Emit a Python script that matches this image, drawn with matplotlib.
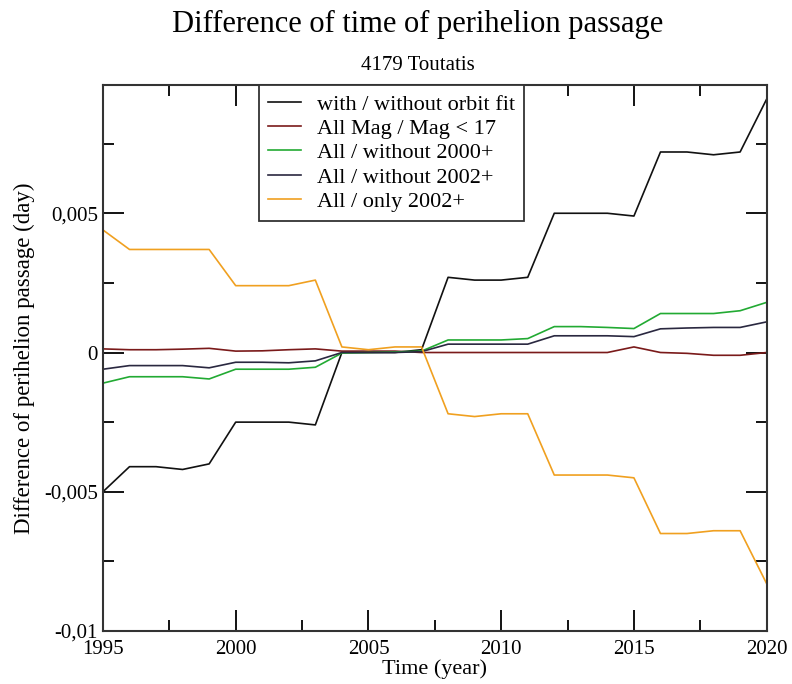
import matplotlib.pyplot as plt
from matplotlib.ticker import MultipleLocator

# years sampled once per year, 1995-2020
years = list(range(1995, 2021))

# with / without orbit fit
orbit_fit = [-0.0050, -0.0041, -0.0041, -0.0042, -0.0040, -0.0025, -0.0025, -0.0025, -0.0026,
             0.0000, 0.0000, 0.0000, 0.0001, 0.0027, 0.0026, 0.0026, 0.0027, 0.0050,
             0.0050, 0.0050, 0.0049, 0.0072, 0.0072, 0.0071, 0.0072, 0.0091]
# All Mag / Mag < 17
mag17 = [0.00013, 0.00010, 0.00010, 0.00012, 0.00015, 0.00005, 0.00006, 0.00010, 0.00013,
         0.00005, 0.00005, 0.00005, 0.0000, 0.0000, 0.0000, 0.0000, 0.0000, 0.0000,
         0.0000, 0.0000, 0.0002, 0.0000, -0.00003, -0.0001, -0.0001, 0.0000]
# All / without 2000+
wo2000 = [-0.0011, -0.00087, -0.00087, -0.00087, -0.00095, -0.0006, -0.0006, -0.0006, -0.00053,
          -0.00002, 0.00000, 0.00002, 0.00005, 0.00045, 0.00045, 0.00045, 0.0005, 0.00093,
          0.00093, 0.0009, 0.00086, 0.0014, 0.0014, 0.0014, 0.0015, 0.0018]
# All / without 2002+
wo2002 = [-0.0006, -0.00047, -0.00047, -0.00047, -0.00055, -0.00035, -0.00035, -0.00037, -0.0003,
          0.0000, 0.0000, 0.0000, 0.00003, 0.0003, 0.0003, 0.0003, 0.0003, 0.0006,
          0.0006, 0.0006, 0.00057, 0.00085, 0.00088, 0.0009, 0.0009, 0.0011]
# All / only 2002+
only2002 = [0.0044, 0.0037, 0.0037, 0.0037, 0.0037, 0.0024, 0.0024, 0.0024, 0.0026,
            0.0002, 0.0001, 0.0002, 0.0002, -0.0022, -0.0023, -0.0022, -0.0022, -0.0044,
            -0.0044, -0.0044, -0.0045, -0.0065, -0.0065, -0.0064, -0.0064, -0.0083]

series = [orbit_fit, mag17, wo2000, wo2002, only2002]
labels = ["with / without orbit fit", "All Mag / Mag < 17", "All / without 2000+",
          "All / without 2002+", "All / only 2002+"]
colors = ["#111111", "#7a1a1a", "#22aa33", "#2a2840", "#f0a020"]

yticks = [-0.01, -0.005, 0, 0.005]
ytick_labels = ["-0,01", "-0,005", "0", "0,005"]

plt.rcParams['font.family'] = ['Liberation Serif', 'DejaVu Serif']

fig = plt.figure(figsize=(7.92, 6.84), dpi=100)
ax = fig.add_axes([0.130, 0.0775, 0.838, 0.798])

for vals, lab, col in zip(series, labels, colors):
    ax.plot(years, vals, color=col, linewidth=1.2, label=lab)

ax.set_xlim(1995, 2020)
ax.set_ylim(-0.01, 0.0096)
ax.xaxis.set_major_locator(MultipleLocator(5))
ax.xaxis.set_minor_locator(MultipleLocator(2.5))
ax.set_yticks(yticks)
ax.set_yticklabels(ytick_labels)
ax.yaxis.set_minor_locator(MultipleLocator(0.0025))
ax.tick_params(which='both', direction='in', top=True, right=True, labelsize=15, width=1.3)
ax.tick_params(which='major', length=15)
ax.tick_params(which='minor', length=8)
ax.tick_params(axis='x', which='both', pad=6.5)
for sp in ax.spines.values():
    sp.set_linewidth(1.5)
    sp.set_color("#333333")

ax.set_xlabel("Time (year)", fontsize=16, labelpad=0)
ax.set_ylabel("Difference of perihelion passage (day)", fontsize=16.5, labelpad=7)

fig.text(0.527, 0.953, "Difference of time of perihelion passage", fontsize=22,
         ha='center', va='baseline')
fig.text(0.527, 0.898, "4179 Toutatis", fontsize=15, ha='center', va='baseline')

leg = ax.legend(loc='upper left', bbox_to_anchor=(0.235, 1.0), borderaxespad=0,
                fontsize=16, frameon=True, fancybox=False, edgecolor='#333333',
                framealpha=1, handlelength=1.5, borderpad=0.4, labelspacing=0.17,
                handletextpad=0.72)
leg.get_frame().set_linewidth(1.3)

plt.savefig("out.png", dpi=100)
